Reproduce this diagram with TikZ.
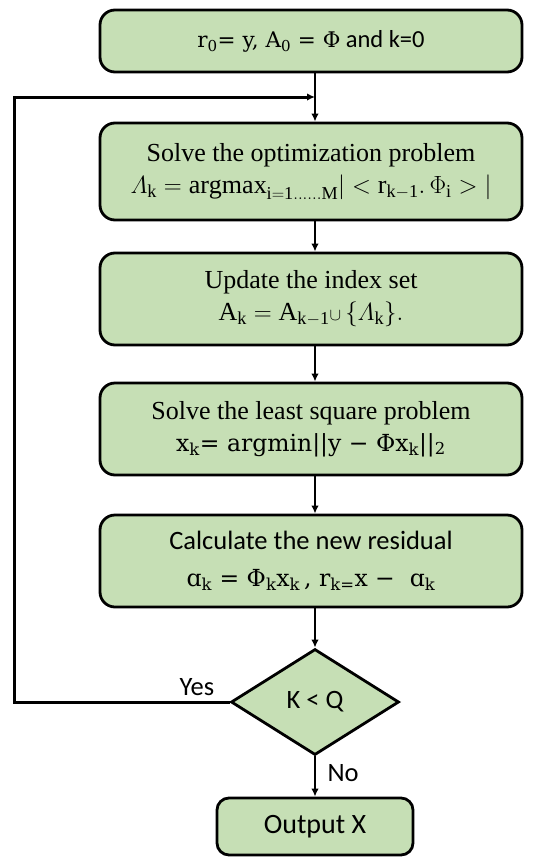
\documentclass[tikz,border=0pt]{standalone}
\usepackage{amsmath}
\usepackage{fontspec}
\setmainfont{Liberation Serif}
\newfontfamily\calib{Carlito}
\newfontfamily\camb{DejaVu Serif}
\usetikzlibrary{shapes.geometric,arrows.meta}
\definecolor{boxgreen}{HTML}{C6DFB5}
\tikzset{
  procbox/.style={draw=black, line width=2.8pt, rounded corners=15pt, fill=boxgreen,
    minimum width=422pt, inner sep=0pt, align=center},
  decbox/.style={draw=black, line width=2.8pt, fill=boxgreen, diamond, aspect=1.6,
    minimum width=168pt, minimum height=106pt, inner sep=0pt},
  flow/.style={line width=2.2pt, -{Latex[length=8pt,width=7.5pt]}},
  serfont/.style={font=\fontsize{26}{32}\selectfont},
  calfont/.style={font=\calib\fontsize{26.5}{32}\selectfont}
}
\newcommand{\eqfont}{\camb\fontsize{23.5}{32}\selectfont}
\begin{document}
\begin{tikzpicture}[x=1pt,y=-1pt]
\useasboundingbox (0,0) rectangle (539,857);
\node[procbox, minimum height=62pt, font=\fontsize{21.5}{30}\selectfont] (b1) at (311,41)
  {{\camb r\textsubscript{0}= y, A\textsubscript{0} = Φ} {\calib\fontsize{24.5}{30}\selectfont and k=0}};
\node[procbox, minimum height=97pt, serfont] (b2) at (311,171.5)
  {Solve the optimization problem\\
   $\varLambda_{\mathrm{k}} = \mathrm{argmax}_{\mathrm{i=1}\ldots\ldots\mathrm{M}}| < \mathrm{r}_{\mathrm{k-1}}.\,\Phi_{\mathrm{i}} > |$};
\node[procbox, minimum height=92pt, serfont] (b3) at (311,299)
  {Update the index set\\
   $\mathrm{A}_{\mathrm{k}} = \mathrm{A}_{\mathrm{k-1}}{\scriptstyle\cup}\,\{\varLambda_{\mathrm{k}}\}.$};
\node[procbox, minimum height=92pt, serfont] (b4) at (311,429)
  {Solve the least square problem\\
   {\eqfont x\textsubscript{k}= argmin||y − Φx\textsubscript{k}||\textsubscript{2}}};
\node[procbox, minimum height=92pt, calfont] (b5) at (311,561)
  {Calculate the new residual\\[5pt]
   {\eqfont ɑ\textsubscript{k} = Φ\textsubscript{k}x\textsubscript{k}\,, r\textsubscript{k=}x −\ \ ɑ\textsubscript{k}}};
\node[decbox, calfont] (d) at (315,702) {K < Q};
\node[procbox, minimum width=196pt, minimum height=57pt, rounded corners=12pt, calfont, font=\calib\fontsize{28}{32}\selectfont] (out) at (315,826.5) {Output X};
\coordinate (m) at (315,97);
\coordinate (lc) at (14,702);
\draw[flow] (b1.south -| d.north) -- (b2.north -| d.north);
\draw[flow] (b2.south -| d.north) -- (b3.north -| d.north);
\draw[flow] (b3.south -| d.north) -- (b4.north -| d.north);
\draw[flow] (b4.south -| d.north) -- (b5.north -| d.north);
\draw[flow] (b5.south -| d.north) -- (d.north);
\draw[flow] (d.south) -- (out.north);
\draw[flow, line width=3pt] (d.west) -- (lc) |- (m);
\node[calfont, anchor=south] (yes) at (197,699) {Yes};
\node[calfont, anchor=west] (no) at (324,773) {No};
\end{tikzpicture}
\end{document}
